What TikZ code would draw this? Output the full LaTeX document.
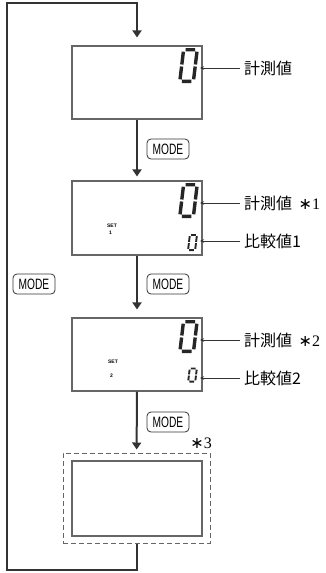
\documentclass[tikz,border=0pt]{standalone}
\usepackage{fontspec}
\usepackage{xcolor}
\usepackage{tikz}
\usetikzlibrary{arrows.meta, positioning, calc}

\newfontfamily\jpfont{Noto Sans CJK JP}
\newfontfamily\modefont[FakeStretch=0.68]{Liberation Sans}
\newfontfamily\tinyfont{Liberation Sans}
\newfontfamily\starfont{DejaVu Sans}
\newfontfamily\notefont{Liberation Serif}

\definecolor{flowgray}{HTML}{333333}
\definecolor{boxgray}{HTML}{666666}

% note mark
\newcommand{\notemark}[1]{{\starfont\fontsize{16}{16}\selectfont ∗}{\notefont\fontsize{16}{16}\selectfont #1}}

% seven-segment "0": #1 x, #2 y, #3 half width, #4 half height, #5 stroke, #6 gap
\newcommand{\segzero}[6]{%
  \begin{scope}[shift={(#1,#2)}, xslant=0.12]
    \pgfmathsetmacro{\sx}{#3-#5/2}
    \pgfmathsetmacro{\sy}{#4-#5/2}
    \draw[line width=#5, line cap=butt, color=black!85]
      (-\sx+#6,-\sy) -- (\sx-#6,-\sy)
      (-\sx+#6,\sy) -- (\sx-#6,\sy)
      (-\sx,-\sy+#6) -- (-\sx,-#6/2)
      (-\sx,#6/2) -- (-\sx,\sy-#6)
      (\sx,-\sy+#6) -- (\sx,-#6/2)
      (\sx,#6/2) -- (\sx,\sy-#6);
  \end{scope}}

\begin{document}
\begin{tikzpicture}[
    x=1pt, y=-1pt,
    display/.style={draw=boxgray, line width=1.1pt, rectangle, minimum width=130pt, minimum height=73pt, inner sep=0pt},
    framebox/.style={draw=boxgray, line width=1pt, dash pattern=on 5pt off 3pt, rectangle, minimum width=147pt, minimum height=90pt, inner sep=0pt},
    modekey/.style={draw=flowgray, line width=0.8pt, rounded corners=4pt, minimum width=42pt, minimum height=20pt, inner sep=0pt, font=\modefont\fontsize{15}{15}\selectfont},
    lbl/.style={anchor=west, inner xsep=4pt, inner ysep=0pt, font=\jpfont\fontsize{16}{18}\selectfont},
    settxt/.style={inner sep=0pt, font=\tinyfont\bfseries\fontsize{5}{5}\selectfont},
    flow/.style={draw=flowgray, line width=2pt, -{Triangle[length=7pt, width=9pt]}},
    ptr/.style={draw=flowgray, line width=0.7pt, -{Stealth[length=4pt, width=3.5pt]}}
]
\useasboundingbox (0,0) rectangle (325,573);

% Displays
\node[display] (disp1) at (137,82.5) {};
\node[display, minimum height=74pt] (disp2) at (137,218) {};
\node[display] (disp3) at (137,354.5) {};
\node[framebox] (frame4) at (136.5,498) {};
\node[display, minimum height=75pt] (disp4) at (137,498.5) {};

% Digits
\segzero{188.5}{65.5}{8.5}{17.5}{3.4}{2}
\segzero{188.5}{200.5}{8.5}{17.5}{3.4}{2}
\segzero{188.5}{336.5}{8.5}{16.5}{3.4}{2}
\segzero{192.5}{242.5}{4.5}{8.5}{1.9}{1.2}
\segzero{192.5}{375}{4.5}{7.5}{1.9}{1.2}
\coordinate (dig1) at (200,68);
\coordinate (dig2) at (200,203);
\coordinate (cmp2) at (200,241);
\coordinate (dig3) at (200,340);
\coordinate (cmp3) at (200,378);

% SET marks
\node[settxt] (set2) at (112,226) {SET};
\node[settxt, anchor=west] (num2) at (109,232.5) {1};
\node[settxt] (set3) at (113,362) {SET};
\node[settxt, anchor=west] (num3) at (110,376) {2};

% Labels
\node[lbl] (meas1) at (240,68) {計測値};
\node[lbl] (meas2) at (240,203) {計測値\hspace{0.4em}\notemark{1}};
\node[lbl] (comp2) at (240,241) {比較値1};
\node[lbl] (meas3) at (240,340) {計測値\hspace{0.4em}\notemark{2}};
\node[lbl] (comp3) at (240,378) {比較値2};
\node[inner sep=0pt, anchor=east] (note3) at (212,443) {\notemark{3}};

\draw[ptr] (meas1.west) -- (dig1);
\draw[ptr] (meas2.west) -- (dig2);
\draw[ptr] (comp2.west) -- (cmp2);
\draw[ptr] (meas3.west) -- (dig3);
\draw[ptr] (comp3.west) -- (cmp3);

% MODE keys
\node[modekey] (key1) at (168,149) {MODE};
\node[modekey] (key2) at (168,284) {MODE};
\node[modekey] (key3) at (168,422) {MODE};
\node[modekey] (keyback) at (34,284) {MODE};

% Flow
\draw[flow, shorten >=4pt] (disp1) -- (disp2);
\draw[flow, shorten >=8pt] (disp2) -- (disp3);
\draw[flow, shorten >=3pt] (disp3) -- (frame4);

\coordinate (loopbl) at (7,570);
\coordinate (looptl) at (7,3);
\draw[flow, shorten >=8pt] (frame4.south) |- (loopbl) -- (looptl) -| (disp1.north);

\end{tikzpicture}
\end{document}
